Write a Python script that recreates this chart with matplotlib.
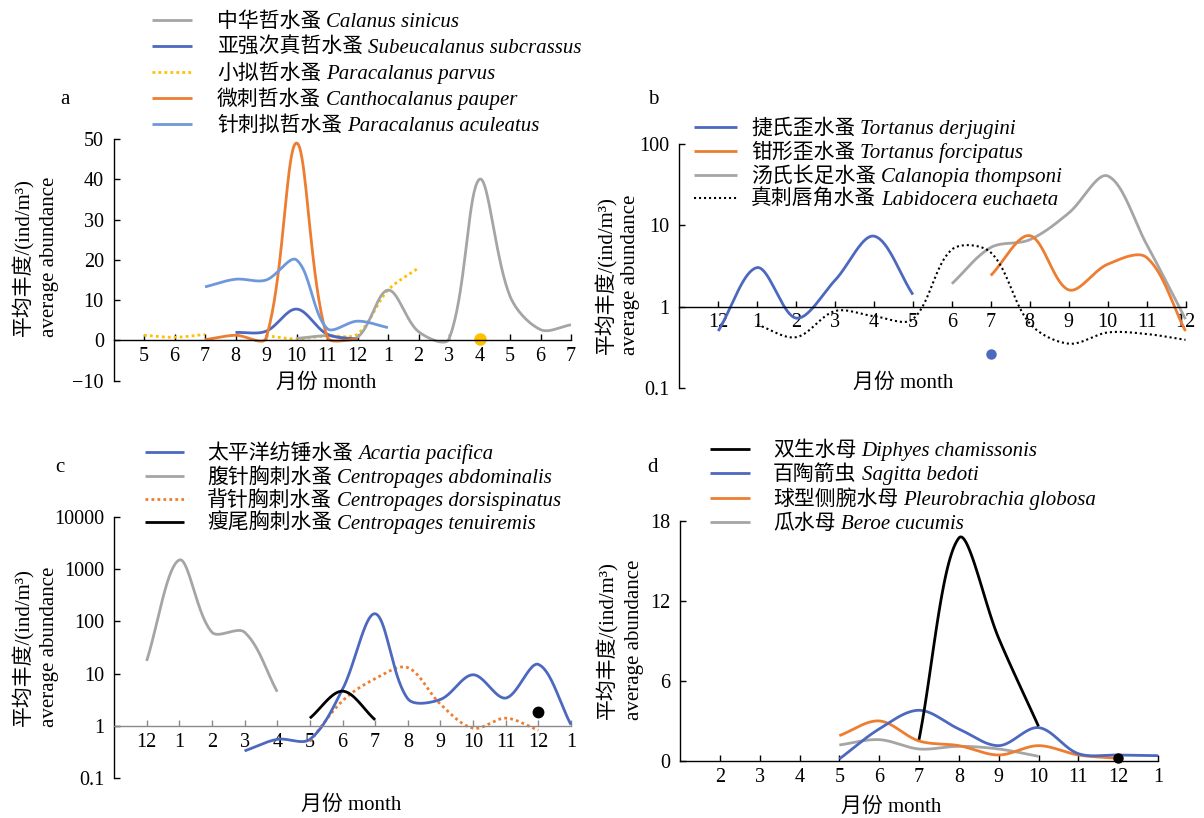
import numpy as np
import matplotlib
matplotlib.use("Agg")
import matplotlib.pyplot as plt
from matplotlib.lines import Line2D
from matplotlib.ticker import NullLocator

plt.rcParams['font.family'] = ['Liberation Serif', 'Noto Sans CJK SC']
plt.rcParams['axes.unicode_minus'] = True

nan = np.nan
W, H = 1204, 818
FS = 15
TFS = 14.5

# ---------------- data ----------------
# panel a (x positions 0..14)
a_months = [5, 6, 7, 8, 9, 10, 11, 12, 1, 2, 3, 4, 5, 6, 7]
a_sinicus = [nan, nan, nan, nan, nan, 0.5, 1.2, 0.8, 12.5, 2.2, 0.4, 40.0, 11.0, 2.7, 3.9]
a_subcrassus = [nan, nan, nan, 2.0, 2.3, 7.8, 1.6, 0.3, nan, nan, nan, nan, nan, nan, nan]
a_parvus = [1.3, 0.8, 1.5, nan, 1.2, 0.4, 1.2, 1.6, 12.5, 18.0, nan, nan, nan, nan, nan]
a_pauper = [nan, nan, 0.2, 1.3, 0.6, 49.0, 1.0, 0.2, nan, nan, nan, nan, nan, nan, nan]
a_aculeatus = [nan, nan, 13.3, 15.2, 15.0, 20.0, 3.0, 4.8, 3.2, nan, nan, nan, nan, nan, nan]
a_dot_x, a_dot_y = [11], [0.4]

# panel b (x positions 0..12)
b_months = [12, 1, 2, 3, 4, 5, 6, 7, 8, 9, 10, 11, 12]
b_derjugini = [0.5, 3.0, 0.72, 2.1, 7.3, 1.4, nan, nan, nan, nan, nan, nan, nan]
b_forcipatus = [nan, nan, nan, nan, nan, nan, nan, 2.4, 7.4, 1.6, 3.3, 4.0, 0.5]
b_thompsoni = [nan, nan, nan, nan, nan, nan, 1.9, 5.3, 6.6, 14.0, 40.0, 5.8, 0.7]
b_euchaeta = [nan, 0.6, 0.42, 0.88, 0.76, 0.7, 5.0, 4.6, 0.62, 0.35, 0.48, 0.46, 0.39]
b_dot_x, b_dot_y = [7], [0.26]

# panel c (x positions 0..13)
c_months = [12, 1, 2, 3, 4, 5, 6, 7, 8, 9, 10, 11, 12, 1]
c_pacifica = [nan, nan, nan, 0.33, 0.55, 0.55, 5.0, 140.0, 3.3, 3.2, 9.5, 3.4, 15.0, 1.05]
c_abdominalis = [17.5, 1500.0, 62.0, 62.0, 4.5, nan, nan, nan, nan, nan, nan, nan, nan, nan]
c_dorsispinatus = [nan, nan, nan, nan, nan, 0.5, 3.0, 8.0, 13.0, 2.6, 0.9, 1.4, 0.82, nan]
c_tenuiremis = [nan, nan, nan, nan, nan, 1.4, 4.6, 1.3, nan, nan, nan, nan, nan, nan]
c_dot_x, c_dot_y = [12], [1.85]

# panel d (x positions 0..12, month = position + 1)
d_months = [2, 3, 4, 5, 6, 7, 8, 9, 10, 11, 12, 1]
d_chamissonis = [nan, nan, nan, nan, nan, nan, 1.6, 16.7, 9.2, 2.6, nan, nan, nan]
d_bedoti = [nan, nan, nan, nan, 0.15, 2.4, 3.8, 2.4, 1.15, 2.5, 0.55, 0.45, 0.4]
d_globosa = [nan, nan, nan, nan, 1.9, 3.0, 1.5, 1.15, 0.45, 1.15, 0.45, 0.2, nan]
d_cucumis = [nan, nan, nan, nan, 1.2, 1.6, 0.9, 1.1, 0.9, 0.35, nan, nan, nan]
d_dot_x, d_dot_y = [11], [0.2]

# ---------------- styles ----------------
GRAY = '#A5A5A5'
BLUE = '#4C68BF'
LBLUE = '#6E98DC'
ORANGE = '#ED7D31'
YELLOW = '#FFC000'
BLACK = '#000000'
LW = 2.0
solid = dict(ls='-', lw=LW)
dotted = dict(ls=(0, (1, 1.15)), lw=2.0)
fine_dotted = dict(ls=(0, (1, 1.4)), lw=1.5)

fig = plt.figure(figsize=(W / 100, H / 100), dpi=100)


def make_ax(l, r, t, b):
    return fig.add_axes([l / W, 1 - b / H, (r - l) / W, (b - t) / H])


def style_ax(ax, xticks, xlabels, base, xcolor='black'):
    for s in ['top', 'right']:
        ax.spines[s].set_visible(False)
    ax.spines['bottom'].set_position(('data', base))
    ax.spines['left'].set_linewidth(1.0)
    ax.spines['bottom'].set_linewidth(1.0)
    ax.spines['bottom'].set_color(xcolor)
    ax.set_xticks(xticks)
    ax.set_xticklabels([str(m) for m in xlabels])
    ax.tick_params(axis='both', direction='in', length=4, width=1, labelsize=TFS)
    ax.tick_params(axis='x', pad=5, color=xcolor)
    ax.tick_params(axis='y', pad=7)
    ax.xaxis.set_minor_locator(NullLocator())
    ax.yaxis.set_minor_locator(NullLocator())
    ax.patch.set_alpha(0)


def smooth_plot(ax, ys, color, st, logy=False, n=40):
    ys = np.asarray(ys, dtype=float)
    xs = np.arange(len(ys), dtype=float)
    bb = ax.get_position()
    wpx, hpx = bb.width * W, bb.height * H
    x0, x1 = ax.get_xlim()
    y0, y1 = ax.get_ylim()
    if logy:
        y0, y1 = np.log10(y0), np.log10(y1)
    sx = wpx / (x1 - x0)
    sy = hpx / (y1 - y0)
    ok = ~np.isnan(ys)
    idx = np.where(ok)[0]
    runs = np.split(idx, np.where(np.diff(idx) != 1)[0] + 1)
    for run in runs:
        if len(run) < 2:
            continue
        yy = np.log10(ys[run]) if logy else ys[run]
        P = np.column_stack([xs[run] * sx, yy * sy])
        m = len(P)
        d = np.linalg.norm(np.diff(P, axis=0), axis=1)
        T = np.zeros_like(P)
        T[1:-1] = P[2:] - P[:-2]
        T[0] = P[1] - P[0]
        T[-1] = P[-1] - P[-2]
        t = np.linspace(0, 1, n)[1:, None]
        out = [P[:1]]
        for i in range(m - 1):
            f1 = 1 / 3 if i == 0 else d[i] / (d[i - 1] + d[i]) / 3
            f2 = 1 / 3 if i + 1 == m - 1 else d[i] / (d[i] + d[i + 1]) / 3
            c1 = P[i] + T[i] * f1
            c2 = P[i + 1] - T[i + 1] * f2
            B = ((1 - t) ** 3) * P[i] + 3 * ((1 - t) ** 2) * t * c1 \
                + 3 * (1 - t) * (t ** 2) * c2 + (t ** 3) * P[i + 1]
            out.append(B)
        C = np.vstack(out)
        cx = C[:, 0] / sx
        cy = C[:, 1] / sy
        if logy:
            cy = 10 ** cy
        ax.plot(cx, cy, color=color, clip_on=False, solid_capstyle='butt',
                dash_capstyle='butt', **st)


renderer = fig.canvas.get_renderer()


def legend_entry(xl0, xl1, xt, y, color, st, cn, latin):
    yf = 1 - y / H
    fig.add_artist(Line2D([xl0 / W, xl1 / W], [yf, yf], color=color,
                          transform=fig.transFigure, solid_capstyle='butt',
                          dash_capstyle='butt', **st))
    yb = 1 - (y + 7) / H
    t = fig.text(xt / W, yb, cn, fontsize=FS, ha='left', va='baseline')
    bb = t.get_window_extent(renderer)
    fig.text((bb.x1 + 5) / W, yb, latin, fontsize=FS, ha='left', va='baseline',
             family='Liberation Serif', style='italic')


def ylabel2(x1, x2, yc):
    fig.text(x1 / W, 1 - yc / H, '平均丰度/(ind/m³)', fontsize=FS, rotation=90,
             ha='center', va='center')
    fig.text(x2 / W, 1 - yc / H, 'average abundance', fontsize=FS, rotation=90,
             ha='center', va='center')


def xlabel(x, y):
    fig.text(x / W, 1 - y / H, '月份 month', fontsize=FS, ha='center', va='center')


# ---------------- panel a ----------------
axa = make_ax(113.5, 571, 139, 380.8)
axa.set_xlim(-1, len(a_months) - 1)
axa.set_ylim(-10, 50)
style_ax(axa, range(len(a_months)), a_months, 0)
axa.set_yticks([-10, 0, 10, 20, 30, 40, 50])
smooth_plot(axa, a_parvus, YELLOW, dotted)
smooth_plot(axa, a_sinicus, GRAY, solid)
smooth_plot(axa, a_subcrassus, BLUE, solid)
smooth_plot(axa, a_pauper, ORANGE, solid)
smooth_plot(axa, a_aculeatus, LBLUE, solid)
axa.plot(a_dot_x, a_dot_y, 'o', color=YELLOW, ms=8, clip_on=False)

# ---------------- panel b ----------------
axb = make_ax(679.3, 1185.5, 143.5, 388)
axb.set_yscale('log')
axb.set_xlim(-1, len(b_months) - 1)
axb.set_ylim(0.1, 100)
style_ax(axb, range(len(b_months)), b_months, 1)
axb.set_yticks([0.1, 1, 10, 100])
axb.set_yticklabels(['0.1', '1', '10', '100'])
axb.yaxis.set_minor_locator(NullLocator())
smooth_plot(axb, b_derjugini, BLUE, solid, logy=True)
smooth_plot(axb, b_thompsoni, GRAY, solid, logy=True)
smooth_plot(axb, b_forcipatus, ORANGE, solid, logy=True)
smooth_plot(axb, b_euchaeta, BLACK, fine_dotted, logy=True)
axb.plot(b_dot_x, b_dot_y, 'o', color=BLUE, ms=6.5, clip_on=False)

# ---------------- panel c ----------------
axc = make_ax(114, 571, 517, 778)
axc.set_yscale('log')
axc.set_xlim(-1, len(c_months) - 1)
axc.set_ylim(0.1, 10000)
style_ax(axc, range(len(c_months)), c_months, 1, xcolor='#8A8A8A')
axc.set_yticks([0.1, 1, 10, 100, 1000, 10000])
axc.set_yticklabels(['0.1', '1', '10', '100', '1000', '10000'])
axc.yaxis.set_minor_locator(NullLocator())
smooth_plot(axc, c_abdominalis, GRAY, solid, logy=True)
smooth_plot(axc, c_dorsispinatus, ORANGE, dotted, logy=True)
smooth_plot(axc, c_pacifica, BLUE, solid, logy=True)
smooth_plot(axc, c_tenuiremis, BLACK, solid, logy=True)
axc.plot(c_dot_x, c_dot_y, 'o', color=BLACK, ms=7.5, clip_on=False)

# ---------------- panel d ----------------
axd = make_ax(680, 1158, 520.7, 761)
axd.set_xlim(0, len(d_months))
axd.set_ylim(0, 18)
style_ax(axd, range(1, len(d_months) + 1), d_months, 0)
axd.set_yticks([0, 6, 12, 18])
smooth_plot(axd, d_cucumis, GRAY, solid)
smooth_plot(axd, d_globosa, ORANGE, solid)
smooth_plot(axd, d_bedoti, BLUE, solid)
smooth_plot(axd, d_chamissonis, BLACK, solid)
axd.plot(d_dot_x, d_dot_y, 'o', color=BLACK, ms=6.5, clip_on=False)

# ---------------- legends ----------------
rows_a = [20, 46, 72, 98, 124]
leg_a = [(GRAY, solid, '中华哲水蚤', 'Calanus sinicus'),
         (BLUE, solid, '亚强次真哲水蚤', 'Subeucalanus subcrassus'),
         (YELLOW, dotted, '小拟哲水蚤', 'Paracalanus parvus'),
         (ORANGE, solid, '微刺哲水蚤', 'Canthocalanus pauper'),
         (LBLUE, solid, '针刺拟哲水蚤', 'Paracalanus aculeatus')]
for y, (c, st, cn, la) in zip(rows_a, leg_a):
    legend_entry(152, 192, 217, y, c, st, cn, la)

rows_b = [127, 151, 175, 198]
leg_b = [(BLUE, solid, '捷氏歪水蚤', 'Tortanus derjugini'),
         (ORANGE, solid, '钳形歪水蚤', 'Tortanus forcipatus'),
         (GRAY, solid, '汤氏长足水蚤', 'Calanopia thompsoni'),
         (BLACK, fine_dotted, '真刺唇角水蚤', 'Labidocera euchaeta')]
for y, (c, st, cn, la) in zip(rows_b, leg_b):
    legend_entry(694, 737, 751, y, c, st, cn, la)

rows_c = [452, 476, 499, 522]
leg_c = [(BLUE, solid, '太平洋纺锤水蚤', 'Acartia pacifica'),
         (GRAY, solid, '腹针胸刺水蚤', 'Centropages abdominalis'),
         (ORANGE, dotted, '背针胸刺水蚤', 'Centropages dorsispinatus'),
         (BLACK, solid, '瘦尾胸刺水蚤', 'Centropages tenuiremis')]
for y, (c, st, cn, la) in zip(rows_c, leg_c):
    legend_entry(145, 184, 207, y, c, st, cn, la)

rows_d = [449, 473, 498, 522]
leg_d = [(BLACK, solid, '双生水母', 'Diphyes chamissonis'),
         (BLUE, solid, '百陶箭虫', 'Sagitta bedoti'),
         (ORANGE, solid, '球型侧腕水母', 'Pleurobrachia globosa'),
         (GRAY, solid, '瓜水母', 'Beroe cucumis')]
for y, (c, st, cn, la) in zip(rows_d, leg_d):
    legend_entry(710, 750, 773, y, c, st, cn, la)

# ---------------- labels ----------------
ylabel2(23, 50, 257)
ylabel2(606, 631, 275)
ylabel2(23, 50, 647)
ylabel2(607, 635, 640)
xlabel(326, 383)
xlabel(903, 383)
xlabel(351, 805)
xlabel(891, 807)
for lab, x, y in [('a', 65, 100), ('b', 653, 100), ('c', 60, 467), ('d', 653, 467)]:
    fig.text(x / W, 1 - y / H, lab, fontsize=FS, ha='center', va='center')

fig.savefig('out.png', dpi=100)
